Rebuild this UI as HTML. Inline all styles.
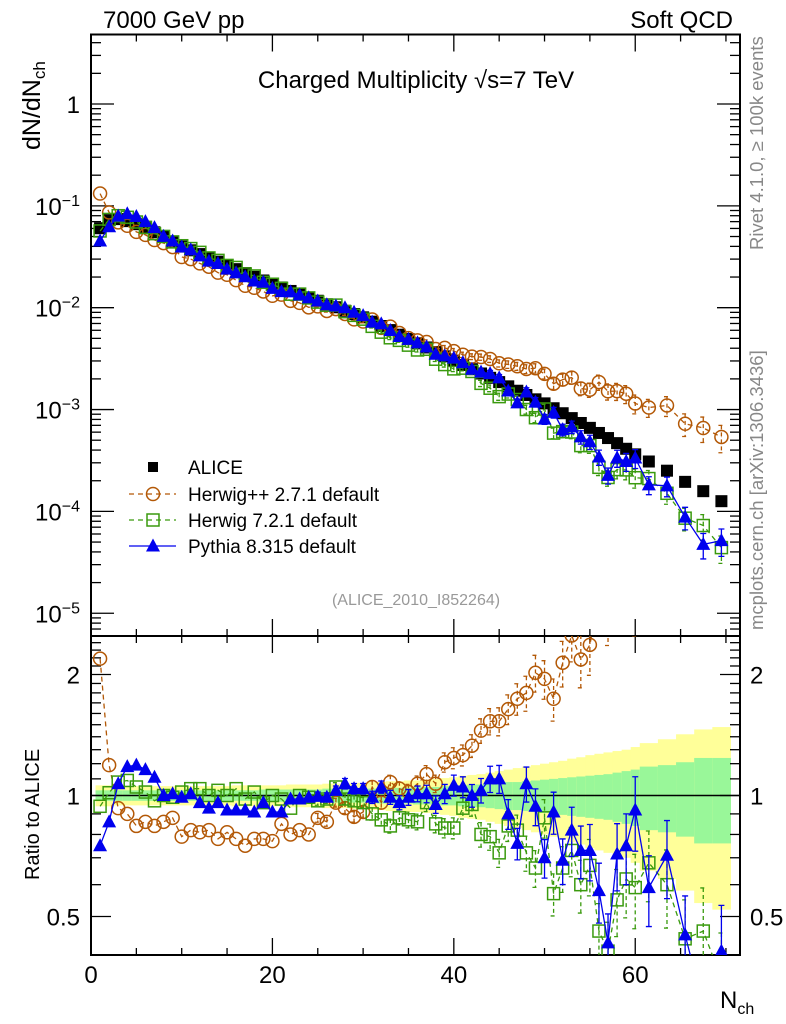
<!DOCTYPE html>
<html><head><meta charset="utf-8">
<style>
html,body{margin:0;padding:0;background:#fff;}
svg{display:block;font-family:"Liberation Sans",Arial,sans-serif;}
</style></head>
<body>
<svg id="chart" width="786" height="1024" viewBox="0 0 786 1024" xmlns="http://www.w3.org/2000/svg">
<defs>
<clipPath id="clipMain"><rect x="91" y="34" width="649" height="602"/></clipPath>
<clipPath id="clipRatio"><rect x="91" y="636" width="649" height="319"/></clipPath>
</defs>
<g id="bands" clip-path="url(#clipRatio)"></g>
<g id="grid"></g>
<g id="series"></g>
<text x="103" y="28" font-size="24">7000 GeV pp</text>
<text x="733" y="28" font-size="24" text-anchor="end">Soft QCD</text>
<text x="416" y="88" font-size="24" text-anchor="middle">Charged Multiplicity √s=7 TeV</text>
<text transform="translate(40,150) rotate(-90)" font-size="25">dN/dN<tspan font-size="17" dy="5">ch</tspan></text>
<text transform="translate(39,880) rotate(-90)" font-size="20">Ratio to ALICE</text>
<text transform="translate(763,250) rotate(-90)" font-size="18.5" fill="#888">Rivet 4.1.0, ≥ 100k events</text>
<text transform="translate(763,630) rotate(-90)" font-size="18.5" fill="#888">mcplots.cern.ch [arXiv:1306.3436]</text>
<text x="416" y="605" font-size="16" fill="#999" text-anchor="middle">(ALICE_2010_I852264)</text>
<text x="720" y="1008" font-size="24">N<tspan font-size="16" dy="6">ch</tspan></text>
<g id="legend"></g>
</svg>
<script>
// ---- data ----
const nch = [1,2,3,4,5,6,7,8,9,10,11,12,13,14,15,16,17,18,19,20,21,22,23,24,25,26,27,28,29,30,31,32,33,34,35,36,37,38,39,40,41,42,43,44,45,46,47,48,49,50,51,52,53,54,55,56,57,58,59,60,61.5,63.5,65.5,67.5,69.5];
const binLo = [0.5,1.5,2.5,3.5,4.5,5.5,6.5,7.5,8.5,9.5,10.5,11.5,12.5,13.5,14.5,15.5,16.5,17.5,18.5,19.5,20.5,21.5,22.5,23.5,24.5,25.5,26.5,27.5,28.5,29.5,30.5,31.5,32.5,33.5,34.5,35.5,36.5,37.5,38.5,39.5,40.5,41.5,42.5,43.5,44.5,45.5,46.5,47.5,48.5,49.5,50.5,51.5,52.5,53.5,54.5,55.5,56.5,57.5,58.5,59.5,60.5,62.5,64.5,66.5,68.5];
const binHi = [1.5,2.5,3.5,4.5,5.5,6.5,7.5,8.5,9.5,10.5,11.5,12.5,13.5,14.5,15.5,16.5,17.5,18.5,19.5,20.5,21.5,22.5,23.5,24.5,25.5,26.5,27.5,28.5,29.5,30.5,31.5,32.5,33.5,34.5,35.5,36.5,37.5,38.5,39.5,40.5,41.5,42.5,43.5,44.5,45.5,46.5,47.5,48.5,49.5,50.5,51.5,52.5,53.5,54.5,55.5,56.5,57.5,58.5,59.5,60.5,62.5,64.5,66.5,68.5,70.5];
const alice = [0.0603,0.0724,0.0741,0.0708,0.0661,0.0603,0.0550,0.0501,0.0447,0.0398,0.0366,0.0336,0.0308,0.0283,0.0260,0.0239,0.0219,0.0201,0.0185,0.0170,0.0158,0.0146,0.0136,0.0126,0.0117,0.0108,0.0101,0.00933,0.00867,0.00804,0.00729,0.00661,0.00603,0.00543,0.00493,0.00447,0.00407,0.00367,0.00333,0.00302,0.00274,0.00249,0.00226,0.00205,0.00186,0.00169,0.00153,0.00139,0.00126,0.00115,0.00103,0.000920,0.000824,0.000738,0.000661,0.000589,0.000525,0.000468,0.000412,0.000363,0.000309,0.000251,0.000195,0.000158,0.000126];
const aliceStatErr = [0.03,0.03,0.03,0.03,0.03,0.03,0.03,0.03,0.03,0.03,0.03,0.03,0.03,0.03,0.03,0.03,0.03,0.03,0.035,0.035,0.035,0.035,0.035,0.035,0.035,0.04,0.04,0.04,0.04,0.04,0.04,0.045,0.045,0.045,0.045,0.05,0.05,0.05,0.055,0.055,0.06,0.065,0.065,0.07,0.075,0.08,0.08,0.085,0.09,0.095,0.1,0.105,0.11,0.115,0.12,0.125,0.13,0.14,0.15,0.16,0.18,0.19,0.21,0.24,0.24];
const aliceTotErr = [0.06,0.06,0.055,0.055,0.055,0.055,0.055,0.055,0.055,0.055,0.055,0.055,0.055,0.055,0.055,0.06,0.06,0.06,0.06,0.06,0.06,0.065,0.065,0.065,0.065,0.07,0.07,0.07,0.075,0.075,0.08,0.08,0.085,0.085,0.09,0.09,0.095,0.1,0.105,0.11,0.12,0.125,0.13,0.14,0.15,0.16,0.17,0.18,0.19,0.2,0.21,0.22,0.235,0.245,0.26,0.27,0.28,0.29,0.30,0.32,0.35,0.38,0.42,0.46,0.48];
const herwigPPRatio = [2.19,1.19,0.93,0.90,0.84,0.86,0.84,0.86,0.88,0.79,0.82,0.81,0.82,0.78,0.81,0.78,0.75,0.78,0.78,0.77,0.85,0.80,0.82,0.80,0.88,0.86,0.96,0.93,0.885,0.91,1.05,0.96,1.08,1.04,1.02,1.07,1.13,1.07,1.21,1.24,1.26,1.33,1.45,1.53,1.53,1.64,1.74,1.80,2.02,1.95,1.74,2.14,2.50,2.18,2.37,3.16,2.88,3.24,3.47,3.16,3.39,4.37,3.72,4.17,4.27];
const herwig7Ratio = [0.94,1.016,1.08,1.09,1.05,1.02,0.97,1.0,0.99,1.02,1.04,1.04,1.0,1.03,1.0,1.04,0.98,1.02,0.96,1.0,0.98,0.93,1.0,0.99,0.97,0.98,1.05,0.98,0.97,0.96,0.90,0.87,0.84,0.88,0.87,0.86,0.96,0.85,0.83,0.83,0.93,0.95,0.80,0.79,0.72,0.84,0.82,0.72,0.66,0.88,0.57,0.66,0.73,0.60,0.67,0.46,0.41,0.55,0.62,0.59,0.68,0.60,0.44,0.46,0.35];
const pythiaRatio = [0.75,0.86,1.07,1.18,1.19,1.16,1.11,1.0,1.01,0.99,1.01,0.96,0.93,0.96,0.92,0.92,0.92,0.91,0.96,0.91,0.91,0.98,0.98,0.99,0.995,0.99,1.03,1.07,1.04,1.04,0.99,1.05,0.99,0.96,0.99,1.01,1.01,0.95,1.01,1.06,1.05,1.0,1.03,1.10,1.10,0.90,0.76,1.07,0.94,0.70,0.91,0.69,0.82,0.73,0.73,0.58,0.43,0.715,0.75,0.92,0.59,0.71,0.45,0.30,0.41];
const modelRelErr = [0.01,0.01,0.01,0.01,0.01,0.01,0.01,0.01,0.01,0.01,0.01,0.01,0.012,0.012,0.012,0.015,0.015,0.015,0.015,0.015,0.02,0.02,0.02,0.02,0.025,0.025,0.025,0.03,0.03,0.03,0.035,0.035,0.04,0.04,0.045,0.045,0.05,0.05,0.055,0.06,0.06,0.065,0.07,0.075,0.08,0.085,0.09,0.1,0.105,0.11,0.12,0.13,0.14,0.15,0.16,0.17,0.18,0.19,0.2,0.21,0.2,0.22,0.25,0.28,0.3];
const xTickMajor = [0,20,40,60];
const yMainDecades = [0,-1,-2,-3,-4,-5];
const ratioLabels = [0.5,1,2];

// ---- scales ----
const X0=91, X1=740, XMAX=71.55;
function sx(n){return X0 + n*(X1-X0)/XMAX;}
function sy(v){return 104 - 101.85*Math.log10(v);}
function sr(r){return 795.5 - 121*Math.log2(r);}
const NS='http://www.w3.org/2000/svg';
function mk(tag,attrs,parent){const e=document.createElementNS(NS,tag);for(const k in attrs)e.setAttribute(k,attrs[k]);parent.appendChild(e);return e;}

const grid=document.getElementById('grid');
const bands=document.getElementById('bands');
const series=document.getElementById('series');
const legend=document.getElementById('legend');

// ---- bands ----
for(let i=0;i<nch.length;i++){
  const xa=sx(binLo[i]), xb=sx(Math.min(binHi[i],XMAX));
  const y1=sr(1+aliceTotErr[i]), y2=sr(Math.max(0.05,1-aliceTotErr[i]));
  const yb=mk('rect',{x:xa,y:y1,width:xb-xa+0.5,height:y2-y1,fill:'#ffff99'},bands);
  
  
  const g1=sr(1+aliceStatErr[i]), g2=sr(1-aliceStatErr[i]);
  const gb=mk('rect',{x:xa,y:g1,width:xb-xa+0.5,height:g2-g1,fill:'#99f799'},bands);
  
  
}
const one=mk('line',{x1:X0,x2:X1,y1:sr(1),y2:sr(1),stroke:'#000','stroke-width':1.5},grid);



// ---- frames ----
const f1=mk('rect',{x:X0,y:34.5,width:X1-X0,height:601.5,fill:'none',stroke:'#000','stroke-width':2},grid);


const f2=mk('rect',{x:X0,y:636,width:X1-X0,height:319,fill:'none',stroke:'#000','stroke-width':2},grid);



// ---- x ticks ----
for(let n=0;n<=70;n+=5){
  const x=sx(n); const L=(n%20===0)?17:7;
  for(const [yb,yt] of [[636,34.5],[955,636]]){
    const t1=mk('line',{x1:x,x2:x,y1:yb,y2:yb-L,stroke:'#000','stroke-width':1.3},grid);
    
    
    const t2=mk('line',{x1:x,x2:x,y1:yt,y2:yt+L,stroke:'#000','stroke-width':1.3},grid);
    
    
  }
}
xTickMajor.forEach(n=>{
  const t=mk('text',{x:sx(n),y:983,'font-size':24,'text-anchor':'middle'},grid);
  t.textContent=String(n);
  
  
});

// ---- main y ticks ----
for(let d=1;d>=-6;d--){
  for(let m=1;m<=9;m++){
    const val=m*Math.pow(10,d);
    const y=sy(val);
    if(y<35||y>635) continue;
    const L=(m===1)?23:10;
    const a=mk('line',{x1:X0,x2:X0+L,y1:y,y2:y,stroke:'#000','stroke-width':1.3},grid);
    
    
    const b=mk('line',{x1:X1-L,x2:X1,y1:y,y2:y,stroke:'#000','stroke-width':1.3},grid);
    
    
  }
}
yMainDecades.forEach(d=>{
  const y=sy(Math.pow(10,d));
  const t=mk('text',{x:80,y:y+9,'font-size':24,'text-anchor':'end'},grid);
  
  
  if(d===0){t.textContent='1';}
  else{t.textContent='10';const s=document.createElementNS(NS,'tspan');s.setAttribute('dy','-9');s.setAttribute('font-size','16');s.textContent='\u2212'+(-d);t.appendChild(s);}
});

// ---- ratio ticks ----
for(let k=4;k<=25;k++){
  const r=k/10; const y=sr(r);
  if(y<637||y>954) continue;
  const L=(k===5||k===10||k===20)?20:10;
  const a=mk('line',{x1:X0,x2:X0+L,y1:y,y2:y,stroke:'#000','stroke-width':1.3},grid);
  
  
  const b=mk('line',{x1:X1-L,x2:X1,y1:y,y2:y,stroke:'#000','stroke-width':1.3},grid);
  
  
}
ratioLabels.forEach(r=>{
  const y=sr(r)+9;
  const t=mk('text',{x:80,y:y,'font-size':24,'text-anchor':'end'},grid);
  t.textContent=String(r);
  
  
  const t2=mk('text',{x:750,y:y,'font-size':24,'text-anchor':'start'},grid);
  t2.textContent=String(r);
  
  
});

// ---- markers ----
function marker(kind,x,y,color,parent,name){
  let e;
  if(kind==='fsq'){e=mk('rect',{x:x-6,y:y-6,width:12,height:12,fill:'#000'},parent);}
  else if(kind==='circ'){e=mk('circle',{cx:x,cy:y,r:6.5,fill:'none',stroke:color,'stroke-width':1.5},parent);}
  else if(kind==='osq'){e=mk('rect',{x:x-6,y:y-6,width:12,height:12,fill:'none',stroke:color,'stroke-width':1.5},parent);}
  else {e=mk('polygon',{points:(x)+','+(y-7.5)+' '+(x-7)+','+(y+5.5)+' '+(x+7)+','+(y+5.5),fill:color},parent);}
  
  
}

// ALICE main
const gA=mk('g',{'clip-path':'url(#clipMain)'},series);


alice.forEach((v,i)=>marker('fsq',sx(nch[i]),sy(v),'#000',gA,'alice-point'));

const models=[
 {r:herwigPPRatio,c:'#b35806',k:'circ',dash:'5,4',name:'herwigpp'},
 {r:herwig7Ratio,c:'#3a9a0e',k:'osq',dash:'5,4',name:'herwig7'},
 {r:pythiaRatio,c:'#0000ee',k:'tri',dash:null,name:'pythia'}
];
models.forEach(m=>{
  const gm=mk('g',{'clip-path':'url(#clipMain)'},series);
  
  
  const gr=mk('g',{'clip-path':'url(#clipRatio)'},series);
  
  
  let pm='',pr='';
  m.r.forEach((r,i)=>{
    const x=sx(nch[i]);
    pm+=(i?'L':'M')+x.toFixed(1)+','+sy(alice[i]*r).toFixed(1);
    pr+=(i?'L':'M')+x.toFixed(1)+','+sr(r).toFixed(1);
  });
  const la={fill:'none',stroke:m.c,'stroke-width':1.3};
  if(m.dash) la['stroke-dasharray']=m.dash;
  const l1=mk('path',Object.assign({d:pm},la),gm);
  
  
  const l2=mk('path',Object.assign({d:pr},la),gr);
  
  
  m.r.forEach((r,i)=>{
    const x=sx(nch[i]); const e=modelRelErr[i];
    if(e>0.02){
      const ea={stroke:m.c,'stroke-width':1.3};
      if(m.dash) ea['stroke-dasharray']='4,3';
      const yu=sr(r*(1+e)), yd=sr(r*Math.max(0.05,1-e));
      const eb=mk('path',Object.assign({d:'M'+x+','+yu+'L'+x+','+yd+'M'+(x-3)+','+yu+'L'+(x+3)+','+yu+'M'+(x-3)+','+yd+'L'+(x+3)+','+yd,fill:'none'},ea),gr);
      
      
      const mu=sy(alice[i]*r*(1+e)), md=sy(alice[i]*r*Math.max(0.05,1-e));
      const em=mk('path',Object.assign({d:'M'+x+','+mu+'L'+x+','+md+'M'+(x-3)+','+mu+'L'+(x+3)+','+mu+'M'+(x-3)+','+md+'L'+(x+3)+','+md,fill:'none'},ea),gm);
      
      
    }
    marker(m.k,x,sy(alice[i]*r),m.c,gm,m.name+'-main-point');
    marker(m.k,x,sr(r),m.c,gr,m.name+'-ratio-point');
  });
});

// ---- legend ----
const legRows=[
 {k:'fsq',c:'#000',dash:null,label:'ALICE',y:467,line:false},
 {k:'circ',c:'#b35806',dash:'5,4',label:'Herwig++ 2.7.1 default',y:494,line:true},
 {k:'osq',c:'#3a9a0e',dash:'5,4',label:'Herwig 7.2.1 default',y:520,line:true},
 {k:'tri',c:'#0000ee',dash:null,label:'Pythia 8.315 default',y:546,line:true}
];
legRows.forEach(r=>{
  const g=mk('g',{},legend);
  
  
  if(r.line){
    const a={x1:129,x2:176,y1:r.y,y2:r.y,stroke:r.c,'stroke-width':1.3};
    if(r.dash)a['stroke-dasharray']=r.dash;
    const ln=mk('line',a,g);
    
    
  }
  if(r.k==='fsq'){const s=mk('rect',{x:148,y:r.y-5,width:10,height:10,fill:'#000'},g);
    
    }
  else marker(r.k,153,r.y,r.c,g,'legend-marker');
  const t=mk('text',{x:188,y:r.y+7,'font-size':19},g);
  t.textContent=r.label;
  
  
});
</script>
</body></html>
